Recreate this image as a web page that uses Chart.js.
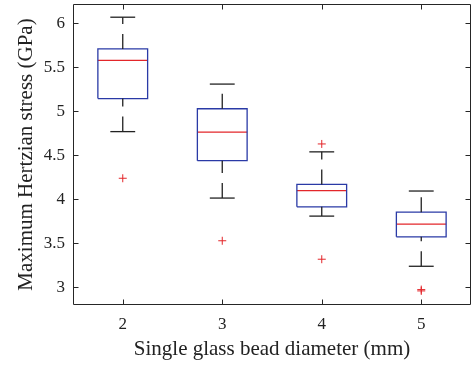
<!DOCTYPE html>
<html>
<head>
<meta charset="utf-8">
<script src="https://cdn.jsdelivr.net/npm/chart.js@4"></script>
<style>
  body { margin: 0; background: #fff; }
  canvas { display: block; }
</style>
</head>
<body>
<canvas id="boxChart" width="471" height="366"></canvas>
<script>
// --- DATA ---
const diameters = [2, 3, 4, 5];
const whiskerLow = [4.77, 4.015, 3.81, 3.24];
const q1 = [5.145, 4.44, 3.915, 3.575];
const medians = [5.58, 4.765, 4.10, 3.72];
const q3 = [5.71, 5.03, 4.17, 3.855];
const whiskerHigh = [6.07, 5.31, 4.54, 4.095];
const outliers = [[4.24], [3.53], [4.63, 3.32], [2.96, 2.975]];
const xTicks = [2, 3, 4, 5];
const yTicks = [3, 3.5, 4, 4.5, 5, 5.5, 6];

// --- STYLE ---
const boxBlue = '#2a3aa6';
const medianRed = '#e3262a';
const whiskerBlack = '#222222';
const halfBox = 0.25;
const halfCap = 0.125;
const serif = '"Liberation Serif", "Times New Roman", serif';

// build line datasets from the arrays
const datasets = [];
function seg(points, color, dash, width) {
    datasets.push({
        type: 'scatter',
        data: points,
        showLine: true,
        borderColor: color,
        borderWidth: width || 1.3,
        borderDash: dash || [],
        pointRadius: 0,
        fill: false
    });
}

diameters.forEach((d, i) => {
    // whiskers, drawn from low value to high value
    seg([{x: d, y: whiskerLow[i]}, {x: d, y: q1[i]}], whiskerBlack, [15, 10]);
    seg([{x: d, y: q3[i]}, {x: d, y: whiskerHigh[i]}], whiskerBlack, [15, 10]);
    // caps
    seg([{x: d - halfCap, y: whiskerLow[i]}, {x: d + halfCap, y: whiskerLow[i]}], whiskerBlack);
    seg([{x: d - halfCap, y: whiskerHigh[i]}, {x: d + halfCap, y: whiskerHigh[i]}], whiskerBlack);
    // box
    seg([
        {x: d - halfBox, y: q1[i]}, {x: d + halfBox, y: q1[i]},
        {x: d + halfBox, y: q3[i]}, {x: d - halfBox, y: q3[i]},
        {x: d - halfBox, y: q1[i]}
    ], boxBlue);
    // median
    seg([{x: d - halfBox, y: medians[i]}, {x: d + halfBox, y: medians[i]}], medianRed);
});

// outliers
datasets.push({
    type: 'scatter',
    data: diameters.flatMap((d, i) => outliers[i].map(v => ({x: d, y: v}))),
    pointStyle: 'cross',
    pointRadius: 4,
    borderColor: medianRed,
    borderWidth: 1,
    backgroundColor: medianRed
});

// --- FRAME + INWARD TICKS (matlab style) ---
const framePlugin = {
    id: 'frame',
    afterDatasetsDraw(chart) {
        const {ctx, chartArea: a, scales} = chart;
        const L = Math.round(a.left) + 0.5, R = Math.round(a.right) - 0.5;
        const T = Math.round(a.top) + 0.5, B = Math.round(a.bottom) - 0.5;
        const len = 5;
        ctx.save();
        ctx.strokeStyle = '#262626';
        ctx.lineWidth = 1;
        ctx.beginPath();
        ctx.rect(L, T, R - L, B - T);
        yTicks.forEach(v => {
            const y = Math.round(scales.y.getPixelForValue(v)) + 0.5;
            ctx.moveTo(L, y); ctx.lineTo(L + len, y);
            ctx.moveTo(R, y); ctx.lineTo(R - len, y);
        });
        xTicks.forEach(v => {
            const x = Math.round(scales.x.getPixelForValue(v)) + 0.5;
            ctx.moveTo(x, B); ctx.lineTo(x, B - len);
            ctx.moveTo(x, T); ctx.lineTo(x, T + len);
        });
        ctx.stroke();
        ctx.restore();
    }
};

new Chart(document.getElementById('boxChart'), {
    type: 'scatter',
    data: { datasets: datasets },
    options: {
        responsive: false,
        animation: false,
        devicePixelRatio: 1,
        layout: { autoPadding: false, padding: { top: 4, right: 0, left: 0, bottom: 0 } },
        plugins: {
            legend: { display: false },
            tooltip: { enabled: false }
        },
        scales: {
            x: {
                type: 'linear',
                min: 1.5,
                max: 5.5,
                afterBuildTicks: s => { s.ticks = xTicks.map(v => ({value: v})); },
                afterFit: s => { s.height = 61; s.paddingLeft = 0; s.paddingRight = 0; },
                grid: { display: false, drawTicks: false },
                border: { display: false },
                ticks: {
                    padding: 9,
                    color: '#222',
                    font: { family: serif, size: 17 }
                },
                title: {
                    display: true,
                    text: 'Single glass bead diameter (mm)',
                    color: '#222',
                    font: { family: serif, size: 21 },
                    padding: { top: 0, bottom: 4 }
                }
            },
            y: {
                type: 'linear',
                min: 2.8,
                max: 6.22,
                afterBuildTicks: s => { s.ticks = yTicks.map(v => ({value: v})); },
                afterFit: s => { s.width = 73; s.paddingTop = 0; s.paddingBottom = 0; },
                grid: { display: false, drawTicks: false },
                border: { display: false },
                ticks: {
                    padding: 8,
                    color: '#222',
                    font: { family: serif, size: 17 },
                    callback: v => String(v)
                },
                title: {
                    display: true,
                    text: 'Maximum Hertzian stress (GPa)',
                    color: '#222',
                    font: { family: serif, size: 21 },
                    padding: { top: 14, bottom: 0 }
                }
            }
        }
    },
    plugins: [framePlugin]
});
</script>
</body>
</html>
